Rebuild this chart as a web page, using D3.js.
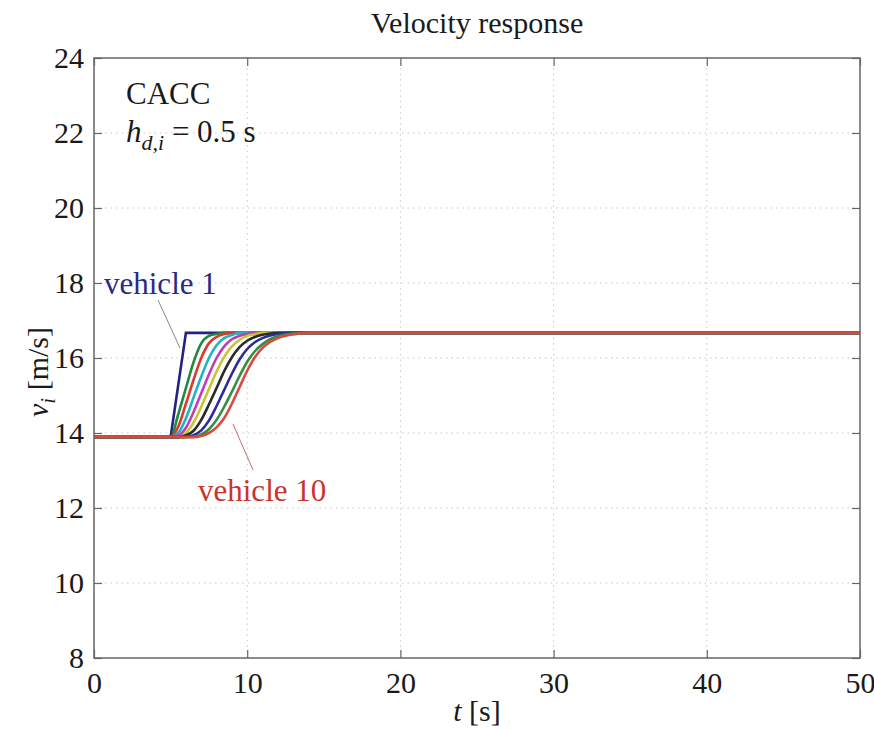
<!DOCTYPE html>
<html>
<head>
<meta charset="utf-8">
<script src="https://cdn.jsdelivr.net/npm/d3@7"></script>
<style>
  body { margin: 0; background: #fff; }
  text { font-family: "Liberation Serif", "Times New Roman", serif; }
</style>
</head>
<body>
<div id="chart"></div>
<script>
// sample times (s), shared by every vehicle
var time = [0, 5, 5.5, 6, 6.5, 7, 7.5, 8, 8.5, 9, 9.5, 10, 10.5, 11, 11.5, 12, 13, 14, 15, 50];

// velocity of each vehicle (m/s)
var v1  = [13.89, 13.89, 15.28, 16.67, 16.67, 16.67, 16.67, 16.67, 16.67, 16.67, 16.67, 16.67, 16.67, 16.67, 16.67, 16.67, 16.67, 16.67, 16.67, 16.67];
var v2  = [13.89, 13.89, 14.5, 15.2, 15.89, 16.39, 16.59, 16.64, 16.67, 16.67, 16.67, 16.67, 16.67, 16.67, 16.67, 16.67, 16.67, 16.67, 16.67, 16.67];
var v3  = [13.89, 13.89, 14.17, 14.78, 15.42, 16.0, 16.39, 16.56, 16.64, 16.67, 16.67, 16.67, 16.67, 16.67, 16.67, 16.67, 16.67, 16.67, 16.67, 16.67];
var v4  = [13.89, 13.89, 14.0, 14.39, 14.95, 15.5, 16.0, 16.34, 16.53, 16.61, 16.67, 16.67, 16.67, 16.67, 16.67, 16.67, 16.67, 16.67, 16.67, 16.67];
var v5  = [13.89, 13.89, 13.93, 14.14, 14.56, 15.06, 15.56, 16.0, 16.31, 16.5, 16.59, 16.64, 16.67, 16.67, 16.67, 16.67, 16.67, 16.67, 16.67, 16.67];
var v6  = [13.89, 13.89, 13.89, 14.0, 14.28, 14.7, 15.17, 15.64, 16.03, 16.31, 16.48, 16.59, 16.63, 16.67, 16.67, 16.67, 16.67, 16.67, 16.67, 16.67];
var v7  = [13.89, 13.89, 13.89, 13.94, 14.06, 14.35, 14.76, 15.2, 15.65, 16.02, 16.29, 16.46, 16.56, 16.62, 16.65, 16.67, 16.67, 16.67, 16.67, 16.67];
var v8  = [13.89, 13.89, 13.89, 13.9, 13.94, 14.07, 14.33, 14.72, 15.15, 15.58, 15.96, 16.24, 16.42, 16.53, 16.6, 16.64, 16.67, 16.67, 16.67, 16.67];
var v9  = [13.89, 13.89, 13.89, 13.89, 13.9, 13.96, 14.1, 14.35, 14.7, 15.1, 15.52, 15.9, 16.18, 16.37, 16.5, 16.58, 16.65, 16.67, 16.67, 16.67];
var v10 = [13.89, 13.89, 13.89, 13.89, 13.89, 13.92, 14.0, 14.15, 14.4, 14.78, 15.22, 15.66, 16.02, 16.27, 16.43, 16.53, 16.63, 16.67, 16.67, 16.67];

var velocities = [v1, v2, v3, v4, v5, v6, v7, v8, v9, v10];
var colors = ["#25237f", "#1f8a3a", "#d83a30", "#1fb3c4", "#c23cb8", "#c9c530", "#2a2a2a", "#2c2c9a", "#2f8f45", "#d84a40"];

var xTicks = [0, 10, 20, 30, 40, 50];
var yTicks = [8, 10, 12, 14, 16, 18, 20, 22, 24];

var width = 874, height = 730;
var margin = {left: 94, right: 14, top: 58, bottom: 72};

var svg = d3.select("#chart")
    .append("svg")
    .attr("width", width)
    .attr("height", height)

var x = d3.scaleLinear().domain([0, 50]).range([margin.left, width - margin.right])
var y = d3.scaleLinear().domain([8, 24]).range([height - margin.bottom, margin.top])

// grid
svg.selectAll(".gx")
    .data(xTicks.slice(1, -1))
    .enter().append("line")
    .attr("x1", d => x(d)).attr("x2", d => x(d))
    .attr("y1", y(8)).attr("y2", y(24))
    .attr("stroke", "#c8c8c8")
    .attr("stroke-dasharray", "1.5,4")
svg.selectAll(".gy")
    .data(yTicks.slice(1, -1))
    .enter().append("line")
    .attr("x1", x(0)).attr("x2", x(50))
    .attr("y1", d => y(d)).attr("y2", d => y(d))
    .attr("stroke", "#c8c8c8")
    .attr("stroke-dasharray", "1.5,4")

// axes, ticks inside, mirrored on top and right
var axStyle = function(g) {
    g.select(".domain").remove()
    g.selectAll(".tick line").attr("stroke", "#666").attr("stroke-width", 1.2)
    g.selectAll(".tick text")
        .attr("fill", "#1a1a1a")
        .style("font-size", "30px")
        .style("font-family", "Liberation Serif, serif")
}
svg.append("g")
    .attr("transform", "translate(0," + y(8) + ")")
    .call(d3.axisBottom(x).tickValues(xTicks).tickSizeInner(-8).tickPadding(14))
    .call(axStyle)
svg.append("g")
    .attr("transform", "translate(0," + y(24) + ")")
    .call(d3.axisTop(x).tickValues(xTicks).tickSizeInner(-8).tickFormat(""))
    .call(axStyle)
svg.append("g")
    .attr("transform", "translate(" + x(0) + ",0)")
    .call(d3.axisLeft(y).tickValues(yTicks).tickSizeInner(-8).tickPadding(10))
    .call(axStyle)
svg.append("g")
    .attr("transform", "translate(" + x(50) + ",0)")
    .call(d3.axisRight(y).tickValues(yTicks).tickSizeInner(-8).tickFormat(""))
    .call(axStyle)

// lines
var line = d3.line()
    .x((d, i) => x(time[i]))
    .y(d => y(d))

svg.selectAll(".vel")
    .data(velocities)
    .enter().append("path")
    .attr("class", "vel")
    .attr("fill", "none")
    .attr("stroke", (d, i) => colors[i])
    .attr("stroke-width", 2.6)
    .attr("d", (d, i) => line.curve(i == 0 ? d3.curveLinear : d3.curveMonotoneX)(d))

// box
svg.append("rect")
    .attr("x", x(0)).attr("y", y(24))
    .attr("width", x(50) - x(0)).attr("height", y(8) - y(24))
    .attr("fill", "none")
    .attr("stroke", "#666")
    .attr("stroke-width", 1.5)

// title and axis labels
svg.append("text")
    .attr("x", (x(0) + x(50)) / 2).attr("y", 33)
    .attr("text-anchor", "middle")
    .style("font-size", "30px")
    .attr("fill", "#1a1a1a")
    .text("Velocity response")

var xl = svg.append("text")
    .attr("x", (x(0) + x(50)) / 2).attr("y", 721)
    .attr("text-anchor", "middle")
    .style("font-size", "30px")
    .attr("fill", "#1a1a1a")
xl.append("tspan").style("font-style", "italic").text("t")
xl.append("tspan").text(" [s]")

var yl = svg.append("text")
    .attr("transform", "translate(48," + 372 + ") rotate(-90)")
    .attr("text-anchor", "middle")
    .style("font-size", "30px")
    .attr("fill", "#1a1a1a")
yl.append("tspan").style("font-style", "italic").text("v")
yl.append("tspan").style("font-style", "italic").style("font-size", "21px").attr("dy", 7).text("i")
yl.append("tspan").attr("dy", -7).text(" [m/s]")

// annotation
svg.append("text")
    .attr("x", 126).attr("y", 104)
    .style("font-size", "31px")
    .attr("fill", "#1a1a1a")
    .text("CACC")
var h = svg.append("text")
    .attr("x", 126).attr("y", 142)
    .style("font-size", "31px")
    .attr("fill", "#1a1a1a")
h.append("tspan").style("font-style", "italic").text("h")
h.append("tspan").style("font-style", "italic").style("font-size", "22px").attr("dy", 8).text("d,i")
h.append("tspan").attr("dy", -8).text(" = 0.5 s")

// vehicle labels with leader lines
svg.append("line")
    .attr("x1", 158).attr("y1", 300).attr("x2", 180).attr("y2", 348)
    .attr("stroke", "#888").attr("stroke-width", 1)
svg.append("text")
    .attr("x", 104).attr("y", 294)
    .style("font-size", "31px")
    .attr("fill", "#2b2a80")
    .text("vehicle 1")
svg.append("line")
    .attr("x1", 233).attr("y1", 424).attr("x2", 253).attr("y2", 470)
    .attr("stroke", "#c07070").attr("stroke-width", 1)
svg.append("text")
    .attr("x", 198).attr("y", 501)
    .style("font-size", "31px")
    .attr("fill", "#c8342c")
    .text("vehicle 10")
</script>
</body>
</html>
